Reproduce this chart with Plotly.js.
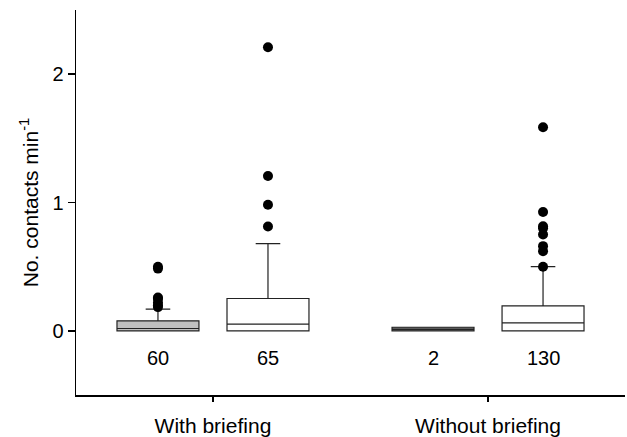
<!DOCTYPE html>
<html>
<head>
<meta charset="utf-8">
<script src="https://cdn.plot.ly/plotly-3.0.1.min.js"></script>
<style>html,body{margin:0;padding:0;background:#fff}#chart{width:627px;height:437px}</style>
</head>
<body>
<div id="chart"></div>
<script>
// ---- data ----
const groups = ["With briefing", "Without briefing"];
const boxGroup = [0, 0, 1, 1];
const boxSub = [0, 1, 0, 1];
const counts = [60, 65, 2, 130];
const q1 = [0, 0, 0, 0];
const medians = [0.018, 0.052, 0.012, 0.062];
const q3 = [0.078, 0.252, 0.028, 0.195];
const lowerFence = [0, 0, 0, 0];
const upperFence = [0.169, 0.68, 0.028, 0.50];
const outliers = [
  [0.185, 0.2, 0.22, 0.25, 0.26, 0.485, 0.5],
  [0.813, 0.983, 1.207, 2.21],
  [],
  [0.50, 0.62, 0.66, 0.75, 0.8, 0.815, 0.926, 1.586]
];
const fills = ["#c0c0c0", "#ffffff", "#6e6e6e", "#ffffff"];

// ---- build ----
const FONT = "Liberation Sans, Arial, sans-serif";
const pos = boxGroup.map((g, i) => g * 2.5 + boxSub[i]);
const traces = [];
for (let i = 0; i < counts.length; i++) {
  traces.push({
    type: "box",
    x: [pos[i]],
    q1: [q1[i]], median: [medians[i]], q3: [q3[i]],
    lowerfence: [lowerFence[i]], upperfence: [upperFence[i]],
    boxpoints: false,
    width: 0.745,
    whiskerwidth: 0.3,
    fillcolor: fills[i],
    line: {color: "#222", width: 1.2},
    showlegend: false,
    hoverinfo: "skip"
  });
}
const ox = [], oy = [];
outliers.forEach((arr, i) => arr.forEach(v => { ox.push(pos[i]); oy.push(v); }));
traces.push({
  type: "scatter", mode: "markers", x: ox, y: oy,
  marker: {color: "#000", size: 10},
  showlegend: false, hoverinfo: "skip"
});

const annotations = counts.map((n, i) => ({
  x: pos[i], y: -0.21, xref: "x", yref: "y", text: String(n),
  showarrow: false, font: {family: FONT, size: 20, color: "#000"}
}));

const layout = {
  width: 627, height: 437,
  margin: {l: 76, r: 2, t: 10, b: 42},
  paper_bgcolor: "#fff", plot_bgcolor: "#fff",
  font: {family: FONT, size: 20, color: "#000"},
  xaxis: {
    range: [-0.745, 4.245],
    tickvals: groups.map((g, i) => i * 2.5 + 0.5),
    ticktext: groups,
    tickfont: {family: FONT, size: 21, color: "#000"},
    ticks: "outside", ticklen: 5, tickcolor: "#000", tickwidth: 1.5,
    showline: true, linecolor: "#000", linewidth: 1.5,
    showgrid: false, zeroline: false,
    ticklabelstandoff: 6
  },
  yaxis: {
    range: [-0.5, 2.5],
    tickvals: [0, 1, 2],
    tickfont: {family: FONT, size: 20, color: "#000"},
    ticks: "outside", ticklen: 7, tickcolor: "#000", tickwidth: 1.5,
    showline: true, linecolor: "#000", linewidth: 1.5,
    showgrid: false, zeroline: false,
    title: {text: "No. contacts min<sup>-1</sup>", font: {family: FONT, size: 21, color: "#000"}, standoff: 8}
  },
  annotations: annotations
};
Plotly.newPlot("chart", traces, layout, {displayModeBar: false, staticPlot: true});
</script>
</body>
</html>
